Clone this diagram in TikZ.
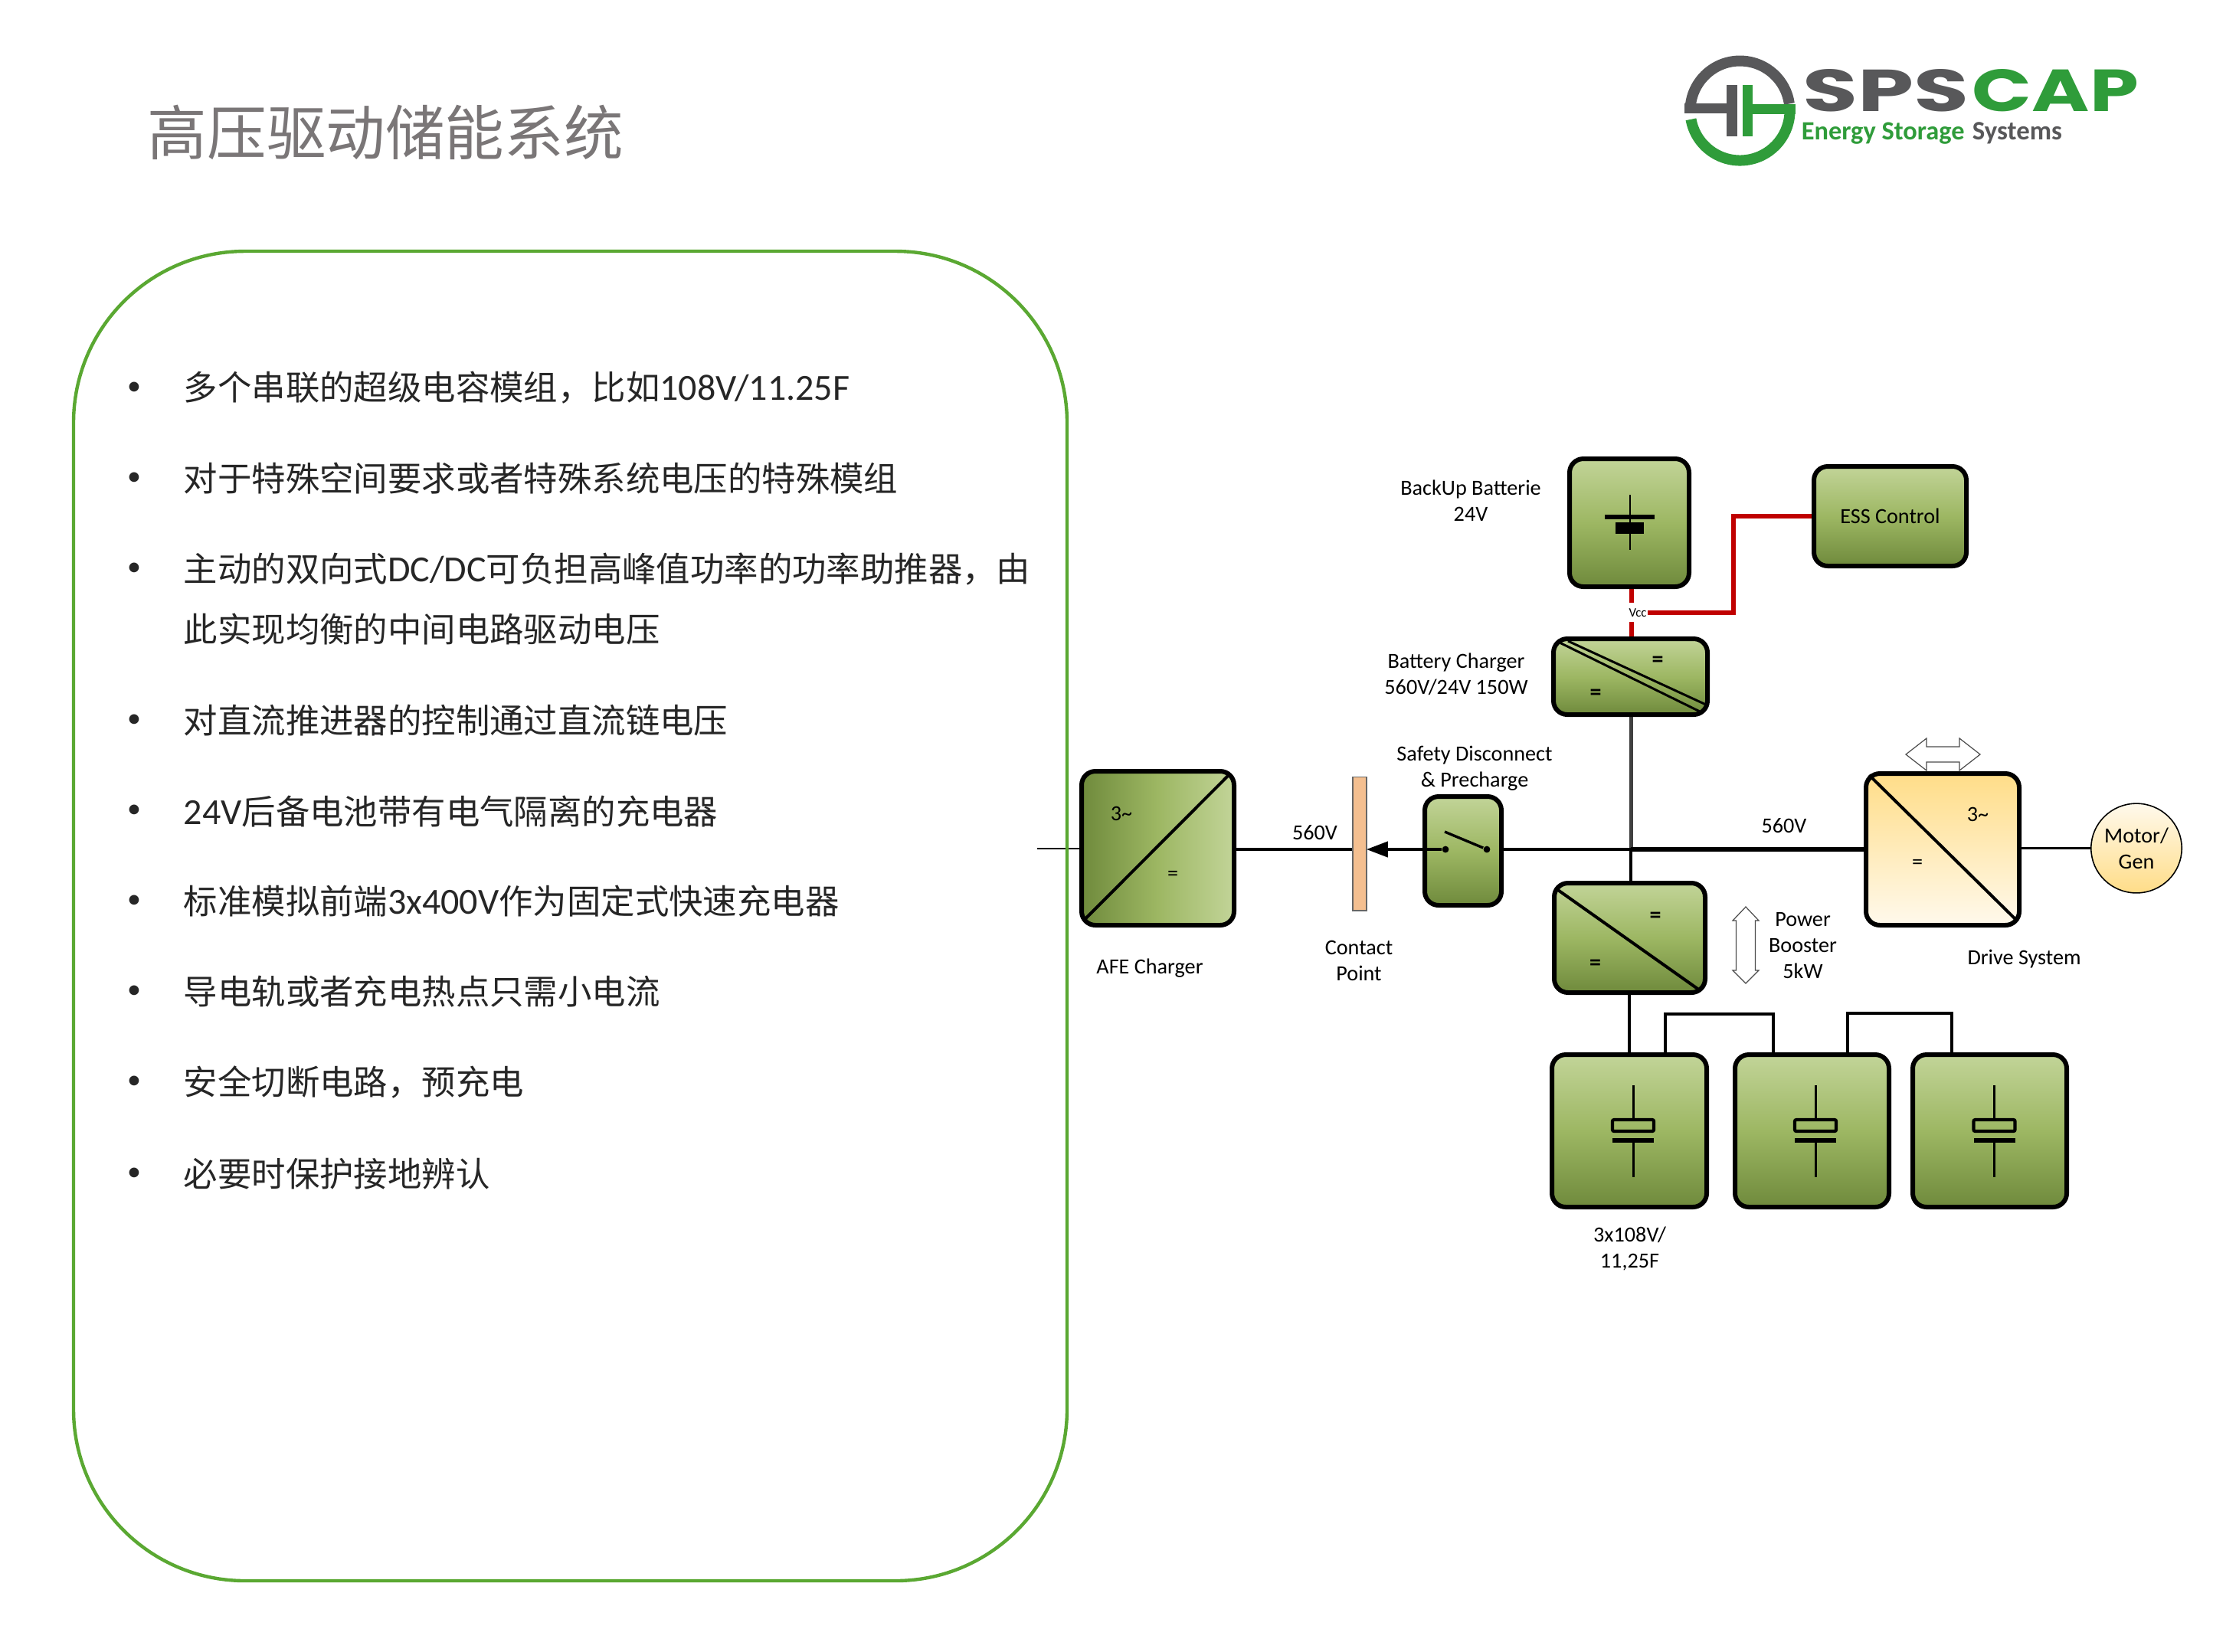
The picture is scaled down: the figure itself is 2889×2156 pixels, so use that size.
\documentclass[tikz,border=0pt]{standalone}
\usepackage{fontspec}
\usepackage{graphicx}
\setmainfont{Carlito}
\newfontfamily\cjk{Noto Sans CJK SC}
\newfontfamily\lat{Carlito}
\newfontfamily\logof{Poppins}[BoldFont=Poppins Bold]
\usetikzlibrary{shapes.geometric,arrows.meta}
\pgfdeclarelayer{bg}
\pgfsetlayers{bg,main}
\definecolor{gtop}{HTML}{C2D498}
\definecolor{gmid}{HTML}{9DB763}
\definecolor{gbot}{HTML}{6F8A3C}
\definecolor{ytop}{HTML}{FFDD88}
\definecolor{ybot}{HTML}{FFF9EC}
\definecolor{panel}{HTML}{5AA832}
\definecolor{lgreen}{HTML}{2F9C3A}
\definecolor{lgrey}{HTML}{58585A}
\definecolor{txt}{HTML}{262626}
\definecolor{ttl}{HTML}{7A7677}
\definecolor{redw}{HTML}{C00000}
\definecolor{greyw}{HTML}{404040}
\definecolor{peach}{HTML}{F4BF90}
\tikzset{
  block/.style={draw=black,line width=1.5pt,rounded corners=4.5pt,outer sep=0pt,inner sep=0pt,
    font=\fontsize{7.05}{8.5}\selectfont,text=black},
  vgrad/.style={top color=gtop,bottom color=gbot,middle color=gmid},
  hgrad/.style={left color=gbot,right color=gtop,middle color=gmid},
  ygrad/.style={top color=ytop,bottom color=ybot},
  wire/.style={draw=black,line width=0.85pt},
  redwire/.style={draw=redw,line width=1.4pt},
  diag/.style={draw=black,line width=1pt},
  lab/.style={font=\fontsize{7.05}{8.5}\selectfont,text=black,inner sep=0pt,align=center},
  eqs/.style={font=\fontsize{7.5}{8}\selectfont\bfseries,text=black,inner sep=0pt},
  item/.style={anchor=west,inner sep=0pt,font=\fontsize{11.1}{14}\selectfont\cjk,text=txt},
  dotb/.style={anchor=center,inner sep=0pt,font=\fontsize{9}{10}\selectfont,text=txt},
  hollow/.style={draw=black!70,fill=white,line width=0.3pt},
  swdot/.style={circle,fill=black,inner sep=0pt,minimum size=2.2pt},
}
\newcommand{\latb}[1]{{\fontsize{12}{14}\selectfont\lat #1}}
\newcommand{\blk}[7]{\node[block,#6,minimum width={(#4-#2-6)*0.25pt},minimum height={(#5-#3-6)*0.25pt}] (#1) at ({(#2+#4)/2},{(#3+#5)/2}) {#7};}
\newcommand{\capsym}[1]{%
  \draw[line width=0.75pt] (#1,1417) -- (#1,1461);
  \draw[line width=1.05pt,draw=black,rounded corners=0.5pt] (#1-27,1462) rectangle (#1+27,1477);
  \fill[black] (#1-27,1486) rectangle (#1+27,1492);
  \draw[line width=0.75pt] (#1,1492) -- (#1,1537);
}
\begin{document}
\begin{tikzpicture}[x=0.25pt,y=-0.25pt]
\useasboundingbox (0,0) rectangle (2889,2156);
\begin{pgfonlayer}{bg}
\fill[white] (0,0) rectangle (2889,2156);
\end{pgfonlayer}
% title
\node[anchor=west,inner sep=0pt,font=\fontsize{19.4}{22}\selectfont\cjk,text=ttl] (title) at (192,173) {高压驱动储能系统};
% panel
\node[draw=panel,line width=1.1pt,rounded corners=56pt,minimum width=324.25pt,minimum height=434pt,inner sep=0pt] (panelbox) at (744.5,1196) {};
% bullets
\foreach \n/\y in {a/507,b/625,c/743,d/941,e/1059,f/1177,g/1295,h/1413,i/1533}{
  \node[dotb] (dot\n) at (175,\y) {•};
}
\node[item] (t1) at (239,506) {多个串联的超级电容模组，比如\latb{108V/11.25F}};
\node[item] (t2) at (239,625) {对于特殊空间要求或者特殊系统电压的特殊模组};
\node[item] (t3) at (239,743) {主动的双向式\latb{DC/DC}可负担高峰值功率的功率助推器，由};
\node[item] (t3b) at (239,822) {此实现均衡的中间电路驱动电压};
\node[item] (t4) at (239,941) {对直流推进器的控制通过直流链电压};
\node[item] (t5) at (239,1059) {\latb{24V}后备电池带有电气隔离的充电器};
\node[item] (t6) at (239,1177) {标准模拟前端\latb{3x400V}作为固定式快速充电器};
\node[item] (t7) at (239,1295) {导电轨或者充电热点只需小电流};
\node[item] (t8) at (239,1413) {安全切断电路，预充电};
\node[item] (t9) at (239,1533) {必要时保护接地辨认};
% logo
\draw[lgrey,line width=3.5pt] (2271.5,144.5) ++(183:65) arc[start angle=183,end angle=352,radius=65];
\fill[lgrey] (2199,135) rectangle (2254,148);
\fill[lgrey] (2254,111) rectangle (2268,178);
\draw[lgreen,line width=3.5pt] (2271.5,144.5) ++(170:65) arc[start angle=170,end angle=-3,radius=65];
\fill[lgreen] (2275,136) rectangle (2344,149);
\fill[lgreen] (2275,111) rectangle (2288,178);
\node[anchor=west,inner sep=0pt,text=lgrey] (sps) at (2353,118.5) {\resizebox{54.25pt}{13.75pt}{\logof\bfseries SPS}};
\node[anchor=west,inner sep=0pt,text=lgreen] (cap) at (2574,118.5) {\resizebox{54.25pt}{13.75pt}{\logof\bfseries CAP}};
\node[anchor=base west,inner sep=0pt,text=lgreen,font=\fontsize{8.6}{9}\selectfont\bfseries] (ene) at (2351,182) {Energy Storage};
\node[anchor=base west,inner sep=0pt,text=lgrey,font=\fontsize{8.7}{9}\selectfont\bfseries] (sys) at (2574,182) {Systems};
% blocks
\blk{batt}{2046}{596}{2208}{769}{vgrad}{}
\blk{ess}{2365}{606}{2570}{742}{vgrad}{ESS Control}
\blk{chg}{2025}{831}{2232}{936}{vgrad}{}
\blk{afe}{1409}{1004}{1614}{1211}{hgrad}{}
\blk{safe}{1857}{1037}{1963}{1185}{vgrad}{}
\blk{boost}{2026}{1150}{2229}{1299}{vgrad}{}
\blk{drive}{2433}{1007}{2639}{1211}{ygrad}{}
\blk{cap1}{2023}{1374}{2231}{1579}{vgrad}{}
\blk{cap2}{2262}{1374}{2469}{1579}{vgrad}{}
\blk{cap3}{2494}{1374}{2701}{1579}{vgrad}{}
\node[draw=black!60,fill=peach,line width=0.4pt,inner sep=0pt,outer sep=0pt,minimum width=4.4pt,minimum height=43.6pt] (contact) at (1775,1101.5) {};
\node[ellipse,draw=black,line width=0.4pt,top color=ybot,bottom color=ytop,inner sep=0pt,outer sep=0pt,minimum width=29pt,minimum height=29.2pt,font=\fontsize{7.05}{8.5}\selectfont,align=center] (motor) at (2789,1107.5) {Motor/\\Gen};
% junction coordinates
\coordinate (bus) at (2129,1109);
\coordinate (rx) at (2130,800);
\coordinate (vccT) at (2130,787);
\coordinate (vccB) at (2130,812);
\coordinate (vccR) at (2151,800);
\coordinate (jog) at (2263,800);
\coordinate (acin) at (1354,1108);
\coordinate (low) at (2127,1340);
\coordinate (la) at (2174,1324);
\coordinate (lb) at (2315,1324);
\coordinate (lc) at (2412,1323);
\coordinate (ld) at (2548,1323);
\node[swdot] (swL) at (1887,1109) {};
\node[swdot] (swR) at (1941,1109) {};
\coordinate (swT) at (1886,1086);
\node[inner sep=0pt,font=\fontsize{4.2}{5}\selectfont] (vcc) at (2138,800) {Vcc};
\begin{pgfonlayer}{bg}
\draw[redwire] (rx |- batt.south) -- (vccT);
\draw[redwire] (vccB) -- (rx |- chg.north);
\draw[redwire] (vccR) -- (jog) |- (ess.west);
\draw[draw=greyw,line width=1.25pt] (bus |- chg.south) -- (bus);
\draw[draw=black,line width=0.55pt] (acin) -- (afe.west |- acin);
\draw[wire] (afe.east |- bus) -- (contact.west |- bus);
\draw[wire] (swR) -- (bus);
\draw[draw=black,line width=1.7pt] (bus) -- (drive.west |- bus);
\draw[wire] (bus) -- (bus |- boost.north);
\draw[wire] (low |- boost.south) -- (low |- cap1.north);
\draw[wire] (la |- cap1.north) -- (la) -- (lb) -- (lb |- cap2.north);
\draw[wire] (lc |- cap2.north) -- (lc) -- (ld) -- (ld |- cap3.north);
\draw[wire] (drive.east |- motor.west) -- (motor.west);
\end{pgfonlayer}
\draw[draw=black,line width=1pt,-{Triangle[length=7pt,width=5pt]}] (swL) -- (contact.east |- swL);
\draw[line width=0.85pt] (swR) -- (swT);
% battery symbol
\draw[line width=0.6pt] (2128,646) -- (2128,718);
\fill[black] (2095,672) rectangle (2160,678);
\fill[black] (2109,682) rectangle (2146,697);
% diagonals
\draw[diag,line width=0.75pt] (2034,838) -- (2219,929);
\draw[diag,line width=0.75pt] (2047,837) -- (2227,920);
\draw[diag] (1415.5,1201) -- (1606,1010);
\draw[diag] (2031,1160) -- (2219,1293);
\draw[diag] (2440,1012) -- (2634,1203);
% cap symbols
\capsym{2132}
\capsym{2370}
\capsym{2603.5}
% hollow arrows
\draw[hollow] (2488,985) -- (2515,964) -- (2515,975) -- (2558,975) -- (2558,964) -- (2585,985) -- (2558,1006) -- (2558,995) -- (2515,995) -- (2515,1006) -- cycle;
\draw[hollow] (2279,1184) -- (2296,1202) -- (2291.5,1202) -- (2291.5,1267) -- (2296,1267) -- (2279,1284) -- (2262,1267) -- (2266.5,1267) -- (2266.5,1202) -- (2262,1202) -- cycle;
% equals and phase labels
\node[eqs] (e1) at (2164,864) {=};
\node[eqs] (e2) at (2083,907) {=};
\node[eqs] (e3) at (2161,1198) {=};
\node[eqs] (e4) at (2082.5,1260) {=};
\node[lab] (e5) at (1531,1143) {=};
\node[lab] (e6) at (2503,1128) {=};
\node[lab] (p1) at (1464,1062) {3\textasciitilde};
\node[lab] (p2) at (2582,1063) {3\textasciitilde};
% labels
\node[lab] (l1) at (1920,654) {BackUp Batterie\\24V};
\node[lab] (l2) at (1901,880) {Battery Charger\\560V/24V 150W};
\node[lab] (l3) at (1925,1003) {Safety Disconnect\\\& Precharge};
\node[lab] (l4) at (1716.5,1087) {560V};
\node[lab] (l5) at (2329,1078) {560V};
\node[lab] (l6) at (1501,1264) {AFE Charger};
\node[lab] (l7) at (1774,1254.5) {Contact\\Point};
\node[lab] (l8) at (2353.5,1235) {Power\\Booster\\5kW};
\node[lab] (l9) at (2642.5,1252) {Drive System};
\node[lab] (l10) at (2127.5,1630.5) {3x108V/\\11,25F};
\end{tikzpicture}
\end{document}
